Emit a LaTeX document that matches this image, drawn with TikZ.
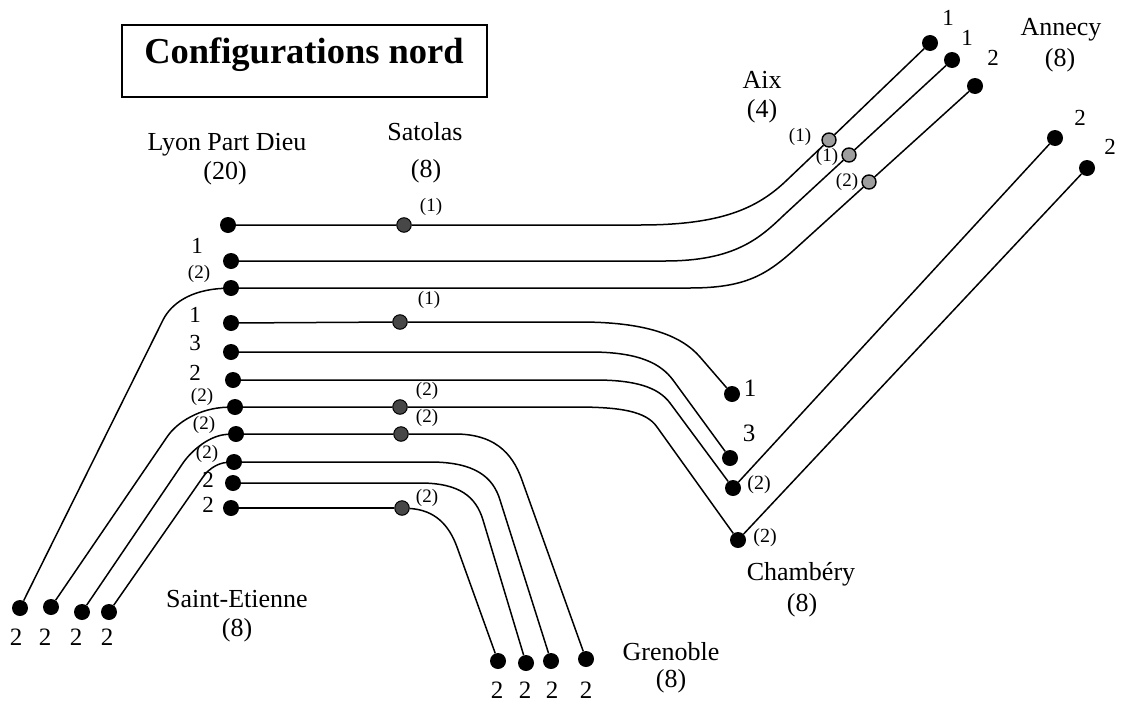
\documentclass[tikz,border=0pt]{standalone}
\usepackage{fontspec}
\setmainfont{Liberation Serif}
\begin{document}
\begin{tikzpicture}[x=1pt,y=-1pt,
  track/.style={line width=1.5pt},
  stn/.style={circle,fill=black,inner sep=0pt,minimum size=16pt},
  sat/.style={circle,fill=black!72,draw=black,line width=1pt,inner sep=0pt,minimum size=14.5pt},
  aixdot/.style={circle,fill=black!38,draw=black,line width=1.4pt,inner sep=0pt,minimum size=14pt},
  city/.style={font=\fontsize{26}{30}\selectfont,anchor=base,inner sep=0pt},
  num/.style={font=\fontsize{23}{26}\selectfont,inner sep=0pt},
  numl/.style={font=\fontsize{25}{28}\selectfont,inner sep=0pt},
  cnt/.style={font=\fontsize{19}{22}\selectfont,inner sep=0pt},
  cntl/.style={font=\fontsize{20}{23}\selectfont,inner sep=0pt},
]
\useasboundingbox (0,0) rectangle (1126,704);

% title
\node[draw,line width=1.3pt,minimum width=365pt,minimum height=72pt,inner sep=0pt] (titlebox) at (304.5,61) {};
\node[font=\fontsize{36.5}{40}\selectfont\bfseries,anchor=base,inner sep=0pt] (title) at (304,63) {Configurations nord};

% Lyon Part Dieu
\node[stn] (L1) at (228,225) {};
\node[stn] (L2) at (231,261) {};
\node[stn] (L3) at (231,288) {};
\node[stn] (L4) at (231,323) {};
\node[stn] (L5) at (231,352) {};
\node[stn] (L6) at (233,380) {};
\node[stn] (L7) at (235,407) {};
\node[stn] (L8) at (236,434) {};
\node[stn] (L9) at (234,462) {};
\node[stn] (L10) at (233,483) {};
\node[stn] (L11) at (231,508) {};

% Satolas
\node[sat] (S1) at (404,225) {};
\node[sat] (S2) at (400,322) {};
\node[sat] (S3) at (400,407) {};
\node[sat] (S4) at (401,434) {};
\node[sat] (S5) at (402,508) {};

% Aix
\node[aixdot] (X1) at (829,140) {};
\node[aixdot] (X2) at (849,155) {};
\node[aixdot] (X3) at (869,182) {};

% Annecy
\node[stn] (N1) at (930,43) {};
\node[stn] (N2) at (952,60) {};
\node[stn] (N3) at (975,86) {};
\node[stn] (N4) at (1055,138) {};
\node[stn] (N5) at (1087,168) {};

% Chambery
\node[stn] (C1) at (732,394) {};
\node[stn] (C2) at (730,458) {};
\node[stn] (C3) at (733,488) {};
\node[stn] (C4) at (738,540) {};

% Saint-Etienne
\node[stn] (E1) at (20,608) {};
\node[stn] (E2) at (51,607) {};
\node[stn] (E3) at (82,612) {};
\node[stn] (E4) at (109,612) {};

% Grenoble
\node[stn] (G1) at (498,661) {};
\node[stn] (G2) at (526,663) {};
\node[stn] (G3) at (551,661) {};
\node[stn] (G4) at (586,659) {};

% tracks towards Aix / Annecy
\draw[track] (L1) -- (S1) -- (640,225) .. controls (720,225) and (757,209) .. (787,180) -- (X1) -- (N1);
\draw[track] (L2) -- (665,261) .. controls (735,261) and (760,238) .. (784,215) -- (X2) -- (N2);
\draw[track] (L3) -- (690,288) .. controls (745,288) and (766,275) .. (794,250) -- (X3) -- (N3);

% tracks towards Chambery (and on to Annecy)
\draw[track] (L4) -- (S2) -- (580,322) .. controls (645,322) and (681,335) .. (700,357) -- (C1);
\draw[track] (L5) -- (590,352) .. controls (640,352) and (661,364) .. (673,380) -- (C2);
\draw[track] (L6) -- (595,380) .. controls (635,380) and (658,387) .. (670,403) -- (C3) -- (N4);
\draw[track] (L7) -- (S3) -- (575,407) .. controls (620,407) and (646,411) .. (657,427) -- (C4) -- (N5);

% tracks towards Grenoble
\draw[track] (L8) -- (S4) -- (455,434) .. controls (500,434) and (515,459) .. (523,483) -- (G4);
\draw[track] (L9) -- (430,462) .. controls (475,462) and (493,477) .. (500,500) -- (G3);
\draw[track] (L10) -- (420,483) .. controls (460,483) and (476,497) .. (483,520) -- (G2);
\draw[track] (L11) -- (S5);
\draw[track] (S5) .. controls (435,510) and (449,525) .. (457,547) -- (G1);

% tracks towards Saint-Etienne
\draw[track] (L3) .. controls (190,290) and (171,304) .. (163,320) -- (E1);
\draw[track] (L7) .. controls (200,408) and (177,422) .. (167,437) -- (E2);
\draw[track] (L8) .. controls (210,435) and (192,450) .. (183,463) -- (E3);
\draw[track] (L9) .. controls (220,463) and (210,467) .. (203,477) -- (E4);

% station names
\node[city] (lyon) at (227,150) {Lyon Part Dieu};
\node[city] (lyonc) at (225,179) {(20)};
\node[city] (satolas) at (425,140) {Satolas};
\node[city] (satolasc) at (426,177) {(8)};
\node[city] (aixt) at (762,88) {Aix};
\node[city] (aixc) at (762,117) {(4)};
\node[city] (annecy) at (1061,35) {Annecy};
\node[city] (annecyc) at (1060,66) {(8)};
\node[city] (chambery) at (801,580) {Chambéry};
\node[city] (chamberyc) at (802,611) {(8)};
\node[city] (grenoble) at (671,660) {Grenoble};
\node[city] (grenoblec) at (671,687) {(8)};
\node[city] (stetienne) at (237,607) {Saint-Etienne};
\node[city] (stetiennec) at (237,636) {(8)};

% counts at Lyon Part Dieu
\node[num] (l2n) at (197,246) {1};
\node[cnt] (l3n) at (199,274) {(2)};
\node[num] (l4n) at (195,315) {1};
\node[num] (l5n) at (195,343) {3};
\node[num] (l6n) at (195,373) {2};
\node[cnt] (l7n) at (202,397) {(2)};
\node[cnt] (l8n) at (204,425) {(2)};
\node[cnt] (l9n) at (207,454) {(2)};
\node[num] (l10n) at (208,480) {2};
\node[num] (l11n) at (208,505) {2};

% counts at Satolas
\node[cnt] (s1n) at (431,207) {(1)};
\node[cnt] (s2n) at (429,300) {(1)};
\node[cnt] (s3n) at (427,391) {(2)};
\node[cnt] (s4n) at (427,418) {(2)};
\node[cnt] (s5n) at (427,498) {(2)};

% counts at Aix
\node[cnt] (x1n) at (800,137) {(1)};
\node[cnt] (x2n) at (827,157) {(1)};
\node[cnt] (x3n) at (847,182) {(2)};

% counts at Annecy
\node[num] (n1n) at (948,18) {1};
\node[num] (n2n) at (967,38) {1};
\node[num] (n3n) at (993,58) {2};
\node[num] (n4n) at (1080,118) {2};
\node[num] (n5n) at (1110,147) {2};

% counts at Chambery
\node[numl] (c1n) at (750,388) {1};
\node[numl] (c2n) at (749,433) {3};
\node[cntl] (c3n) at (759,485) {(2)};
\node[cntl] (c4n) at (765,538) {(2)};

% counts at Saint-Etienne
\node[numl] (e1n) at (16,637) {2};
\node[numl] (e2n) at (45,637) {2};
\node[numl] (e3n) at (76,637) {2};
\node[numl] (e4n) at (107,637) {2};

% counts at Grenoble
\node[numl] (g1n) at (497,690) {2};
\node[numl] (g2n) at (525,690) {2};
\node[numl] (g3n) at (552,690) {2};
\node[numl] (g4n) at (586,690) {2};
\end{tikzpicture}
\end{document}
